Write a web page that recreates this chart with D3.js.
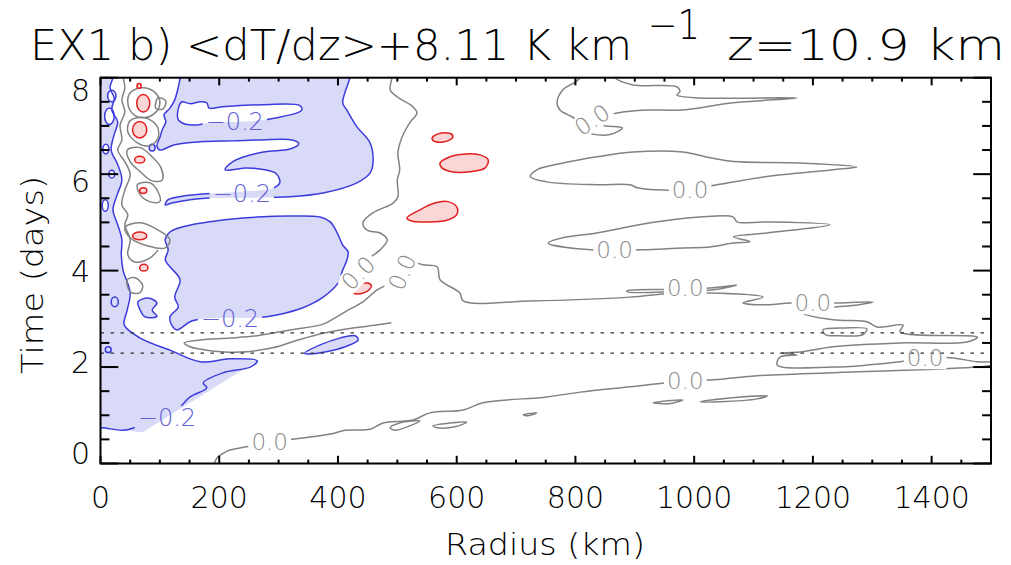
<!DOCTYPE html>
<html><head><meta charset="utf-8">
<script src="https://cdn.jsdelivr.net/npm/d3@7"></script>
<style>
body{margin:0;background:#fff;}
svg{display:block;}
text{font-family:"DejaVu Sans",sans-serif;font-weight:200;}
</style></head><body>
<svg id="c" width="1011" height="565"></svg>
<script>
// ---------------- DATA (radius km, time days) ----------------
const xTickLabels = [0,200,400,600,800,1000,1200,1400];
const yTickLabels = [0,2,4,6,8];
const dashedTimes = [2.29, 2.71];
const titleParts = ["EX1 b) <dT/dz>+8.11 K km", "\u22121", "z=10.9 km"];

// blue (< -0.2) regions
const blueA = [[134,8.08],[420,8.08],[420,8.0],[408,7.48],[415,7.33],[432,6.98],[454,6.65],[459,6.23],[454,6.02],[432,5.82],[375,5.61],[319,5.53],[252,5.51],[196,5.51],[151,5.47],[120,5.40],[109,5.36],[114,5.47],[142,5.55],[201,5.61],[252,5.65],[289,5.70],[302,5.82],[296,6.01],[277,6.09],[247,6.13],[210,6.09],[223,6.26],[274,6.46],[319,6.52],[334,6.63],[323,6.71],[269,6.71],[223,6.69],[168,6.67],[125,6.61],[100,6.50],[95,6.59],[100,6.76],[104,6.92],[110,7.09],[107,7.23],[117,7.37],[125,7.54],[130,7.75],[134,8.0]];
const blueAHole = [[131,7.13],[132,7.40],[137,7.50],[151,7.46],[168,7.50],[179,7.48],[183,7.37],[206,7.40],[274,7.44],[336,7.42],[339,7.33],[331,7.27],[297,7.17],[264,7.11],[226,7.08],[189,7.08],[163,7.02],[142,7.04]];
const blueB = [[117,4.80],[139,4.91],[206,5.05],[264,5.11],[319,5.13],[370,5.11],[387,5.01],[398,4.80],[408,4.53],[417,4.39],[415,4.22],[408,4.01],[400,3.74],[375,3.45],[341,3.23],[297,3.08],[264,3.02],[218,3.02],[173,3.00],[151,2.94],[129,2.77],[120,2.87],[117,3.04],[131,3.25],[125,3.45],[134,3.81],[117,4.08],[109,4.22],[114,4.43],[109,4.64]];
const blueLeftEdge = [[21,8.08],[21,8.0],[16,7.79],[23,7.58],[19,7.33],[29,7.08],[23,6.82],[18,6.50],[29,6.20],[36,5.88],[28,5.57],[21,5.26],[29,4.95],[36,4.64],[35,4.33],[38,4.01],[50,3.54],[45,3.18],[40,2.87],[67,2.60],[117,2.35],[168,2.11],[218,2.17],[264,2.13],[252,2.00],[206,1.88],[173,1.67],[179,1.57],[151,1.38],[134,1.17],[120,1.01],[83,0.86],[62,0.76],[38,0.69],[4,0.74],[-10,0.74]];
const blueLeftFill = [[-10,8.1],[21,8.1],[21,8.0],[16,7.79],[23,7.58],[19,7.33],[29,7.08],[23,6.82],[18,6.50],[29,6.20],[36,5.88],[28,5.57],[21,5.26],[29,4.95],[36,4.64],[35,4.33],[38,4.01],[50,3.54],[45,3.18],[40,2.87],[67,2.60],[117,2.35],[168,2.11],[218,2.17],[264,2.13],[71,0.65],[38,0.69],[4,0.72],[-10,0.72]];
const blueSmall = [[[63,3.35],[80,3.43],[95,3.33],[87,3.18],[95,3.05],[75,3.04],[67,3.18]],
                   [[344,2.29],[370,2.46],[403,2.60],[429,2.65],[434,2.56],[412,2.42],[378,2.31],[353,2.27]]];
const blueRings = [[24,3.35,6,0.10],[87,6.55,5,0.07],[13,2.36,5,0.06]];
const whiteBubbles = [[19,7.62,7,0.12],[15,7.20,8,0.17],[9,6.52,5,0.10],[19,6.0,5,0.08],[8,5.35,5,0.12]];

// red (> +0.2) regions
const redEllipses = [[72,7.47,11,0.18,0],[66,6.92,12,0.17,0],[66,6.30,8.5,0.07,0],[72,5.66,6,0.06,0],[66,4.72,12,0.08,0],[73,4.06,7,0.07,0],[65,7.83,3.5,0.05,0],[576,6.76,17.7,0.093,-8],[440,3.63,17,0.10,-18]];
const redShapes = [[[572,6.23],[589,6.36],[614,6.42],[639,6.40],[653,6.30],[648,6.13],[622,6.05],[592,6.05],[575,6.13]],
                   [[516,5.09],[538,5.26],[563,5.40],[585,5.43],[600,5.32],[600,5.16],[585,5.05],[555,5.01],[524,5.03]]];

// zero contours
const zeroOpen = [
  [[491,8.08],[491,8.0],[488,7.75],[500,7.60],[526,7.40],[533,7.27],[521,7.07],[508,6.77],[501,6.44],[504,6.09],[500,5.88],[501,5.53],[493,5.40],[459,5.20],[442,4.99],[449,4.84],[471,4.78],[483,4.64],[471,4.43],[457,4.30]],
  [[491,3.74],[466,3.60],[442,3.35],[420,3.20],[395,3.02],[375,2.89],[319,2.77],[264,2.65],[218,2.60],[168,2.56],[141,2.50],[151,2.42],[179,2.35],[235,2.31],[290,2.40],[330,2.55],[375,2.70],[420,2.80],[470,2.88],[490,2.92]],
  [[528,4.18],[543,4.12],[567,4.08],[572,3.81],[605,3.54],[611,3.37],[724,3.37],[892,3.45],[954,3.52],[1010,3.54],[1116,3.45],[1082,3.33],[1123,3.29],[1162,3.33],[1200,3.33],[1246,3.33],[1301,3.35],[1263,3.27],[1204,3.21],[1183,3.12],[1234,2.98],[1291,2.94],[1308,2.83],[1352,2.87],[1347,2.73],[1477,2.62],[1459,2.52],[1347,2.50],[1234,2.42],[1178,2.31],[1145,2.29],[1173,2.25],[1145,2.21],[1140,2.04],[1234,2.00],[1291,2.04],[1347,2.11],[1389,2.19],[1436,2.19],[1477,2.11],[1510,2.12]],
  [[190,-0.05],[196,0.11],[205,0.20],[218,0.28],[243,0.34],[285,0.45],[327,0.51],[387,0.61],[412,0.69],[454,0.71],[476,0.84],[526,0.90],[555,1.05],[611,1.11],[644,1.26],[752,1.38],[808,1.48],[892,1.59],[985,1.71],[1027,1.73],[1106,1.82],[1279,1.90],[1477,2.00],[1510,2.05]],
  [[867,8.08],[867,8.0],[897,7.85],[971,7.81],[976,7.71],[971,7.64],[1010,7.58],[1173,7.58],[1066,7.48],[981,7.33],[920,7.33],[870,7.27],[855,7.22]],
  [[808,8.08],[808,8.0],[800,7.91],[779,7.75],[769,7.48],[774,7.33],[794,7.19],[805,7.10]],
  [[36,8.08],[41,7.79],[36,7.54],[41,7.29],[33,7.02],[36,6.71],[29,6.50],[41,6.26],[50,5.99],[41,5.67],[36,5.36],[46,5.16],[41,4.95],[50,4.64],[46,4.33],[58,4.18],[83,4.26],[97,4.43]]
];
const zeroClosed = [
  [[887,3.58],[954,3.61],[1027,3.64],[1072,3.70],[1030,3.60],[954,3.56],[887,3.56]],
  [[488,0.74],[504,0.84],[538,0.88],[521,0.78],[496,0.69]],
  [[560,0.78],[589,0.84],[617,0.86],[597,0.76],[568,0.74]],
  [[712,1.01],[735,1.05],[720,0.99]],
  [[931,1.26],[981,1.32],[958,1.24]],
  [[1010,1.28],[1060,1.36],[1123,1.40],[1106,1.34],[1043,1.28]],
  [[1217,2.77],[1254,2.81],[1291,2.79],[1284,2.67],[1246,2.65],[1221,2.67]],
  [[724,5.95],[735,6.09],[779,6.23],[836,6.36],[897,6.46],[981,6.46],[1027,6.34],[1066,6.26],[1178,6.23],[1274,6.15],[1234,6.09],[1123,5.95],[1039,5.78],[993,5.68],[948,5.67],[904,5.72],[892,5.78],[836,5.78],[752,5.84]],
  [[754,4.57],[779,4.68],[836,4.78],[926,4.99],[1010,5.11],[1066,5.11],[1072,5.01],[1123,5.01],[1229,4.95],[1123,4.78],[1066,4.70],[1094,4.60],[1066,4.57],[1027,4.49],[981,4.47],[912,4.43],[866,4.43],[826,4.43]],
  [[814,7.07],[851,7.00],[879,6.96],[858,6.82],[825,6.84],[808,6.92]],
  [[50,7.69],[70,7.79],[92,7.69],[100,7.48],[92,7.27],[72,7.17],[53,7.27],[46,7.48]],
  [[97,7.58],[110,7.52],[105,7.35],[93,7.37]],
  [[50,7.11],[75,7.17],[95,7.00],[97,6.75],[83,6.59],[62,6.65],[46,6.88]],
  [[45,6.50],[67,6.55],[87,6.36],[102,6.13],[104,5.88],[87,5.86],[67,6.05],[50,6.26]],
  [[62,5.78],[83,5.82],[97,5.63],[100,5.43],[83,5.43],[67,5.57]],
  [[41,4.89],[67,4.99],[97,4.84],[117,4.64],[109,4.47],[80,4.51],[50,4.68]],
  [[45,3.81],[58,3.85],[71,3.70],[66,3.54],[50,3.56]]
];

// contour labels
const blueLabels = [[226,7.10],[238,5.61],[218,3.00],[112,0.96]];
const zeroLabels = [[993,5.67],[866,4.43],[985,3.64],[1200,3.33],[1389,2.19],[985,1.71],[285,0.45],[434,3.95],[508,3.97],[828,7.13]];
const zeroLabelAngles = [0,0,0,0,0,0,0,-45,-67,-34];

// ---------------- DRAWING ----------------
const col = {bf:"#d8daf8", bl:"#3c3cdc", rf:"#fbd6d6", rl:"#e21e1e", g:"#828282", bt:"#6262d4", gt:"#8c8c8c"};
const x = d3.scaleLinear().domain([0,1500]).range([100.5,991]);
const y = d3.scaleLinear().domain([0,8]).range([463.5,77.7]);
const svg = d3.select("#c");
const defs = svg.append("defs");
defs.append("clipPath").attr("id","plot").append("rect")
  .attr("x",x(0)).attr("y",y(8)).attr("width",x(1500)-x(0)).attr("height",y(0)-y(8));
const mask = defs.append("mask").attr("id","lbl").attr("maskUnits","userSpaceOnUse")
  .attr("x",0).attr("y",0).attr("width",1011).attr("height",565);
mask.append("rect").attr("width",1011).attr("height",565).attr("fill","#fff");

const lo = d3.line().x(d=>x(d[0])).y(d=>y(d[1])).curve(d3.curveCatmullRom.alpha(0.5));
const lc = d3.line().x(d=>x(d[0])).y(d=>y(d[1])).curve(d3.curveCatmullRomClosed.alpha(0.5));
const lLin = d3.line().x(d=>x(d[0])).y(d=>y(d[1]));
const kx = k => x(k)-x(0), ky = t => y(0)-y(t);

const fillG = svg.append("g").attr("clip-path","url(#plot)");
const strokeOuter = svg.append("g").attr("clip-path","url(#plot)");
const strokeG = strokeOuter.append("g").attr("mask","url(#lbl)");

function ell(g, e, fill, stroke){
  g.append("ellipse").attr("cx",x(e[0])).attr("cy",y(e[1])).attr("rx",kx(e[2])).attr("ry",ky(e[3]))
   .attr("transform",`rotate(${e[4]||0},${x(e[0])},${y(e[1])})`)
   .attr("fill",fill).attr("stroke",stroke).attr("stroke-width",1.5);
}

// fills
fillG.append("path").attr("d",lLin(blueLeftFill)).attr("fill",col.bf);
fillG.append("path").attr("d",lc(blueA)+lc(blueAHole)).attr("fill",col.bf).attr("fill-rule","evenodd");
fillG.append("path").attr("d",lc(blueB)).attr("fill",col.bf);
blueSmall.forEach(s=>fillG.append("path").attr("d",lc(s)).attr("fill",col.bf));
whiteBubbles.forEach(e=>ell(fillG,e,"#fff","none"));
redShapes.forEach(s=>fillG.append("path").attr("d",lc(s)).attr("fill",col.rf));

// strokes
const sw = 1.5;
strokeG.append("path").attr("d",lo(blueLeftEdge)).attr("fill","none").attr("stroke",col.bl).attr("stroke-width",sw);
[blueA,blueAHole,blueB,...blueSmall].forEach(s=>strokeG.append("path").attr("d",lc(s)).attr("fill","none").attr("stroke",col.bl).attr("stroke-width",sw));
whiteBubbles.forEach(e=>ell(strokeG,e,"none",col.bl));
blueRings.forEach(e=>ell(strokeG,e,col.bf,col.bl));
zeroOpen.forEach(s=>strokeG.append("path").attr("d",lo(s)).attr("fill","none").attr("stroke",col.g).attr("stroke-width",sw));
zeroClosed.forEach(s=>strokeG.append("path").attr("d",lc(s)).attr("fill","none").attr("stroke",col.g).attr("stroke-width",sw));
redShapes.forEach(s=>strokeG.append("path").attr("d",lc(s)).attr("fill","none").attr("stroke",col.rl).attr("stroke-width",sw));
redEllipses.forEach(e=>ell(strokeG,e,col.rf,col.rl));

// dashed lines
strokeOuter.selectAll("line.dash").data(dashedTimes).join("line")
  .attr("x1",x(0)).attr("x2",x(1500)).attr("y1",d=>y(d)).attr("y2",d=>y(d))
  .attr("stroke","#333").attr("stroke-width",1.2).attr("stroke-dasharray","3.5,6.5");

// contour labels + mask holes
const labG = svg.append("g");
function addLabel(p, txt, color, ang, fs){
  const cx = x(p[0]), cy = y(p[1]);
  const t = labG.append("text").attr("x",cx).attr("y",cy).attr("dy","0.36em")
    .attr("text-anchor","middle").attr("font-size",fs).attr("fill",color)
    .attr("transform",`rotate(${ang},${cx},${cy})`).text(txt);
  const b = t.node().getBBox();
  mask.append("rect").attr("x",b.x-3).attr("y",b.y+2).attr("width",b.width+6).attr("height",b.height-4)
    .attr("fill","#000").attr("transform",`rotate(${ang},${cx},${cy})`);
}
blueLabels.forEach(p=>addLabel(p,"\u22120.2",col.bt,0,24));
zeroLabels.forEach((p,i)=>addLabel(p,"0.0",col.gt,zeroLabelAngles[i],23));

// frame & ticks
const axG = svg.append("g").attr("stroke","#000").attr("stroke-width",2);
const xMinor = d3.range(0,1501,50), yMinor = d3.range(0,8.001,0.5);
xMinor.forEach(v=>{
  const L = (v%200===0)?7.7:3.9;
  axG.append("line").attr("x1",x(v)).attr("x2",x(v)).attr("y1",y(0)).attr("y2",y(0)-L);
  axG.append("line").attr("x1",x(v)).attr("x2",x(v)).attr("y1",y(8)).attr("y2",y(8)+L);
});
yMinor.forEach(v=>{
  const L = (Math.abs(v%2)<1e-6)?17.8:8.9;
  axG.append("line").attr("y1",y(v)).attr("y2",y(v)).attr("x1",x(0)).attr("x2",x(0)+L);
  axG.append("line").attr("y1",y(v)).attr("y2",y(v)).attr("x1",x(1500)).attr("x2",x(1500)-L);
});
axG.append("rect").attr("x",x(0)).attr("y",y(8)).attr("width",x(1500)-x(0)).attr("height",y(0)-y(8)).attr("fill","none");

// tick labels
const tl = svg.append("g").attr("font-size",30).attr("fill","#000");
tl.selectAll("text.xl").data(xTickLabels).join("text").attr("class","xl")
  .attr("x",d=>x(d)).attr("y",y(0)+44).attr("text-anchor","middle").text(d=>d);
const yLab = d3.scaleLinear().domain([8,0]).range([y(8)+12.5,y(0)-10.5]);
tl.selectAll("text.yl").data(yTickLabels).join("text").attr("class","yl")
  .attr("x",90).attr("y",d=>yLab(d)).attr("dy","0.36em").attr("text-anchor","end").text(d=>d);

// axis titles
svg.append("text").attr("x",545).attr("y",555).attr("text-anchor","middle").attr("font-size",31)
  .attr("textLength",200).attr("lengthAdjust","spacingAndGlyphs").text("Radius (km)");
svg.append("text").attr("transform","translate(43,275) rotate(-90)").attr("text-anchor","middle").attr("font-size",31)
  .attr("textLength",198).attr("lengthAdjust","spacingAndGlyphs").text("Time (days)");

// title (three pieces placed to match)
svg.append("text").attr("x",30).attr("y",60).attr("font-size",43)
  .attr("textLength",602).attr("lengthAdjust","spacingAndGlyphs").text(titleParts[0]);
svg.append("text").attr("x",648).attr("y",39).attr("font-size",40)
  .attr("textLength",52).attr("lengthAdjust","spacingAndGlyphs").text(titleParts[1]);
svg.append("text").attr("x",727).attr("y",60).attr("font-size",43)
  .attr("textLength",278).attr("lengthAdjust","spacingAndGlyphs").text(titleParts[2]);
</script>
</body></html>
